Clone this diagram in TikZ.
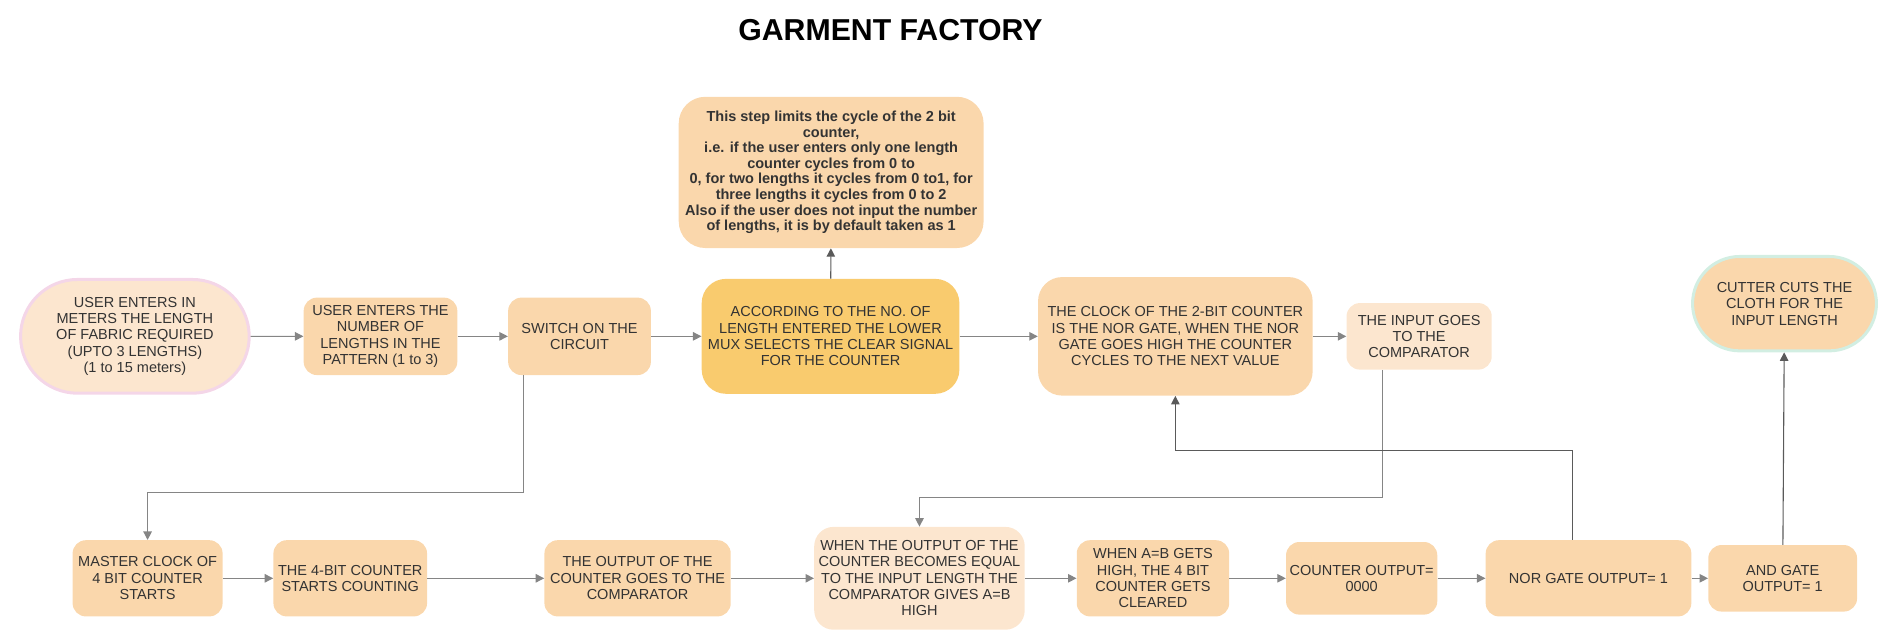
\documentclass[tikz,border=0pt]{standalone}
\usepackage{fontspec}
\setmainfont{Liberation Sans}
\usepackage{xcolor}
\usetikzlibrary{shapes.misc, positioning, arrows.meta}

\definecolor{peach}{HTML}{FAD7AC}
\definecolor{lightpeach}{HTML}{FCE6CF}
\definecolor{muxfill}{HTML}{F9CB6E}
\definecolor{txtgray}{HTML}{333333}
\definecolor{linkgray}{HTML}{858585}
\definecolor{darklink}{HTML}{5A5A5A}
\definecolor{pinkglow}{HTML}{F4D6E8}
\definecolor{greenglow}{HTML}{D2EEE2}

\tikzset{
  stepbox/.style={rectangle, rounded corners=11pt, fill=peach, text=txtgray,
    align=center, inner sep=2pt, font=\fontsize{12}{13.5}\selectfont},
  pill/.style={rounded rectangle, fill=peach, text=txtgray, line width=2.5pt,
    align=center, inner sep=2pt, font=\fontsize{12}{13.5}\selectfont},
  link/.style={draw=linkgray, line width=0.9pt, -{Triangle[length=7pt,width=7pt]}},
  uplink/.style={link, draw=darklink},
}

\begin{document}
\begin{tikzpicture}[x=1pt, y=-1pt]
    \useasboundingbox (0,0) rectangle (1568,531);
    \node[font=\fontsize{25}{29}\selectfont\bfseries] (title) at (736,25) {GARMENT FACTORY};
    % upper row
    \node[pill, fill=lightpeach, draw=pinkglow, minimum width=193pt, minimum height=94pt] (usr) at (111.5,278)
      {USER ENTERS IN\\METERS THE LENGTH\\OF FABRIC REQUIRED\\(UPTO 3 LENGTHS)\\(1 to 15 meters)};
    \node[stepbox, minimum width=127pt, minimum height=64pt] (num) at (314.5,278)
      {USER ENTERS THE\\NUMBER OF\\LENGTHS IN THE\\PATTERN (1 to 3)};
    \node[stepbox, minimum width=118pt, minimum height=64pt] (sw) at (479,278)
      {SWITCH ON THE\\CIRCUIT};
    \node[stepbox, fill=muxfill, rounded corners=20pt, minimum width=213pt, minimum height=95pt] (mux) at (686.5,278)
      {ACCORDING TO THE NO. OF\\LENGTH ENTERED THE LOWER\\MUX SELECTS THE CLEAR SIGNAL\\FOR THE COUNTER};
    \node[stepbox, rounded corners=22pt, minimum width=252pt, minimum height=125pt, font=\fontsize{12}{12.9}\selectfont\bfseries] (note) at (687,142.5)
      {This step limits the cycle of the 2 bit\\counter,\\i.e. if the user enters only one length\\counter cycles from 0 to\\0, for two lengths it cycles from 0 to1, for\\three lengths it cycles from 0 to 2\\Also if the user does not input the number\\of lengths, it is by default taken as 1};
    \node[stepbox, rounded corners=20pt, minimum width=227pt, minimum height=98pt] (clk) at (971.5,278)
      {THE CLOCK OF THE 2-BIT COUNTER\\IS THE NOR GATE, WHEN THE NOR\\GATE GOES HIGH THE COUNTER\\CYCLES TO THE NEXT VALUE};
    \node[stepbox, fill=lightpeach, minimum width=120pt, minimum height=55pt] (inp) at (1173,278)
      {THE INPUT GOES\\TO THE\\COMPARATOR};
    \node[pill, draw=greenglow, minimum width=156pt, minimum height=78pt] (cut) at (1475,251)
      {CUTTER CUTS THE\\CLOTH FOR THE\\INPUT LENGTH};
    % lower row
    \node[stepbox, minimum width=124pt, minimum height=63pt] (mclk) at (122,478)
      {MASTER CLOCK OF\\4 BIT COUNTER\\STARTS};
    \node[stepbox, minimum width=127pt, minimum height=63pt] (cnt) at (289.5,478)
      {THE 4-BIT COUNTER\\STARTS COUNTING};
    \node[stepbox, minimum width=154pt, minimum height=63pt] (out) at (527,478)
      {THE OUTPUT OF THE\\COUNTER GOES TO THE\\COMPARATOR};
    \node[stepbox, fill=lightpeach, rounded corners=16pt, minimum width=174pt, minimum height=85pt] (eq) at (760,478)
      {WHEN THE OUTPUT OF THE\\COUNTER BECOMES EQUAL\\TO THE INPUT LENGTH THE\\COMPARATOR GIVES A=B\\HIGH};
    \node[stepbox, minimum width=126pt, minimum height=63pt] (clr) at (953,478)
      {WHEN A=B GETS\\HIGH, THE 4 BIT\\COUNTER GETS\\CLEARED};
    \node[stepbox, minimum width=125pt, minimum height=60pt] (zero) at (1125.5,478)
      {COUNTER OUTPUT=\\0000};
    \node[stepbox, minimum width=170pt, minimum height=63pt] (nor) at (1313,478)
      {NOR GATE OUTPUT= 1};
    \node[stepbox, minimum width=123pt, minimum height=55pt] (and) at (1473.5,478)
      {AND GATE\\OUTPUT= 1};
    %
    \draw[link] (usr) -- (num);
    \draw[link] (num) -- (sw);
    \draw[link] (sw) -- (mux);
    \draw[uplink] (mux) -- (note);
    \draw[link] (mux) -- (clk);
    \draw[link] (clk) -- (inp);
    %
    \draw[link] (mclk) -- (cnt);
    \draw[link] (cnt) -- (out);
    \draw[link] (out) -- (eq);
    \draw[link] (eq) -- (clr);
    \draw[link] (clr) -- (zero);
    \draw[link] (zero) -- (nor);
    \draw[link] (nor) -- (and);
    %
    \coordinate (swbend) at (433,407);
    \coordinate (inbend) at (1143,411);
    \coordinate (norbend) at (1300,372);
    \draw[link] (sw.south -| swbend) -- (swbend) -| (mclk.north);
    \draw[link] (inp.south -| inbend) -- (inbend) -| (eq.north);
    \draw[uplink] (nor.north -| norbend) -- (norbend) -| (clk.south);
    \draw[uplink] (and) -- (cut);
  \end{tikzpicture}
\end{document}
